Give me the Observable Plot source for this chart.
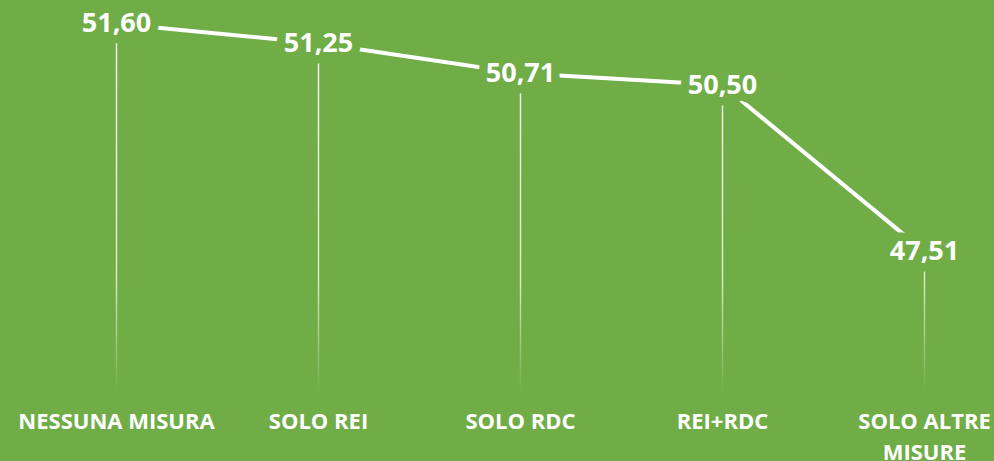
<!DOCTYPE html>
<html>
<head>
<meta charset="utf-8">
<script src="https://cdn.jsdelivr.net/npm/d3@7"></script>
<script src="https://cdn.jsdelivr.net/npm/@observablehq/plot@0.6"></script>
<style>
  html, body { margin: 0; padding: 0; background: #70AD47; }
  #chart { width: 994px; height: 461px; overflow: hidden; }
</style>
</head>
<body>
<div id="chart"></div>
<script>
const categories = ["NESSUNA MISURA", "SOLO REI", "SOLO RDC", "REI+RDC", "SOLO ALTRE MISURE"];
const values = [51.60, 51.25, 50.71, 50.50, 47.51];
const tickLabels = ["NESSUNA MISURA", "SOLO REI", "SOLO RDC", "REI+RDC", "SOLO ALTRE\nMISURE"];
const yBase = 45;

const data = categories.map((c, i) => ({category: c, value: values[i]}));
const fmt = v => v.toFixed(2).replace(".", ",");
const green = "#70AD47";

const plot = Plot.plot({
  width: 994,
  height: 461,
  marginTop: 1,
  marginBottom: 70,
  marginLeft: 115,
  marginRight: 69,
  style: {background: green, color: "white", fontFamily: "'Open Sans', sans-serif", overflow: "visible"},
  x: {type: "point", domain: categories, padding: 0, label: null},
  y: {domain: [45, 52], axis: null},
  marks: [
    Plot.ruleX(data, {x: "category", y1: "value", y2: () => yBase, stroke: "url(#dropGrad)", strokeWidth: 1.4}),
    Plot.line(data, {x: "category", y: "value", stroke: "white", strokeWidth: 4}),
    Plot.text(data, {x: "category", y: "value", text: d => fmt(d.value), fill: "white", stroke: green, strokeWidth: 17, fontSize: 27, fontWeight: "bold"}),
    Plot.axisX({tickSize: 0, tickPadding: 15, fontSize: 22, fontWeight: "bold", lineHeight: 1.42, tickFormat: (d) => tickLabels[categories.indexOf(d)], fill: "white", label: null})
  ]
});

const svg = d3.select(plot);
const defs = svg.insert("defs", ":first-child");
const grad = defs.append("linearGradient")
  .attr("id", "dropGrad")
  .attr("gradientUnits", "userSpaceOnUse")
  .attr("x1", 0).attr("x2", 0).attr("y1", 0).attr("y2", 392);
grad.append("stop").attr("offset", "0").attr("stop-color", "white").attr("stop-opacity", 1);
grad.append("stop").attr("offset", "0.72").attr("stop-color", "white").attr("stop-opacity", 0.75);
grad.append("stop").attr("offset", "1").attr("stop-color", "white").attr("stop-opacity", 0);

document.getElementById("chart").appendChild(plot);
</script>
</body>
</html>
